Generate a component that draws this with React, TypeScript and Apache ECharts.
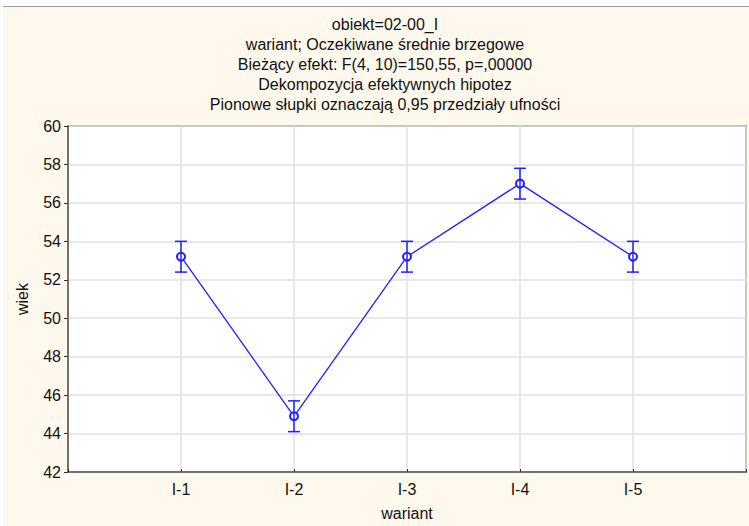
import React, { useEffect, useRef } from "react";
import * as echarts from "echarts";

// Expected marginal means of "wiek" per variant, with 0.95 confidence limits
const categories = ["I-1", "I-2", "I-3", "I-4", "I-5"];
const means = [53.2, 44.9, 53.2, 57.0, 53.2];
const lower = [52.4, 44.1, 52.4, 56.2, 52.4];
const upper = [54.0, 45.7, 54.0, 57.8, 54.0];
const yTicks = [42, 60, 2]; // min, max, interval

const titleLines = [
  "obiekt=02-00_I",
  "wariant; Oczekiwane średnie brzegowe",
  "Bieżący efekt: F(4, 10)=150,55, p=,00000",
  "Dekompozycja efektywnych hipotez",
  "Pionowe słupki oznaczają 0,95 przedziały ufności",
];

const FONT = "'Liberation Sans', Arial, sans-serif";
const BLUE = "#1f1fff";
const W = 746;

export default function App() {
  const ref = useRef<HTMLDivElement>(null);

  useEffect(() => {
    if (!ref.current) return;
    const chart = echarts.init(ref.current, undefined, { renderer: "svg" });

    // pad the category axis with an empty slot on each side
    const axisCats = ["", ...categories, ""];
    const lineData = [null, ...means, null];
    const errData = categories.map((c, i) => [c, lower[i], upper[i]]);

    chart.setOption({
      animation: false,
      backgroundColor: "#fff9ed",
      textStyle: { fontFamily: FONT },
      title: {
        text: titleLines.join("\n"),
        left: W / 2 + 4,
        textAlign: "center",
        top: 2,
        textStyle: {
          fontFamily: FONT,
          fontSize: 16,
          fontWeight: "normal",
          color: "#111",
          lineHeight: 20.2,
        },
      },
      grid: {
        left: 65,
        top: 119,
        bottom: 53,
        right: -5,
        show: true,
        backgroundColor: "#ffffff",
        borderColor: "#555",
        borderWidth: 1.5,
      },
      xAxis: {
        type: "category",
        data: axisCats,
        boundaryGap: false,
        name: "wariant",
        nameLocation: "middle",
        nameGap: 33,
        nameTextStyle: { fontFamily: FONT, fontSize: 16, color: "#111" },
        axisLine: { lineStyle: { color: "#555", width: 1.5 } },
        axisTick: { show: true, inside: true, length: 3, lineStyle: { color: "#333" } },
        axisLabel: { fontFamily: FONT, fontSize: 16, color: "#111", margin: 9, interval: 0 },
        splitLine: { show: true, lineStyle: { color: "#e0e0e0", width: 1.5 } },
      },
      yAxis: {
        type: "value",
        min: yTicks[0],
        max: yTicks[1],
        interval: yTicks[2],
        name: "wiek",
        nameLocation: "middle",
        nameGap: 38,
        nameTextStyle: { fontFamily: FONT, fontSize: 16, color: "#111" },
        axisLine: { show: true, lineStyle: { color: "#555", width: 1.5 } },
        axisTick: { show: true, length: 4, lineStyle: { color: "#333" } },
        axisLabel: { fontFamily: FONT, fontSize: 16, color: "#111", margin: 7 },
        splitLine: { show: true, lineStyle: { color: "#e0e0e0", width: 1.5 } },
      },
      series: [
        {
          type: "line",
          data: lineData,
          symbol: "emptyCircle",
          symbolSize: 8,
          connectNulls: false,
          lineStyle: { color: BLUE, width: 1.3 },
          itemStyle: { color: BLUE, borderColor: BLUE, borderWidth: 1.2 },
          z: 3,
        },
        {
          type: "custom",
          data: errData,
          encode: { x: 0, y: [1, 2] },
          z: 4,
          renderItem: (params: any, api: any) => {
            const x = api.value(0);
            const lo = api.coord([x, api.value(1)]);
            const hi = api.coord([x, api.value(2)]);
            const cap = 6;
            const style = { stroke: BLUE, lineWidth: 1.5, fill: "none" };
            return {
              type: "group",
              children: [
                { type: "line", shape: { x1: lo[0], y1: lo[1], x2: hi[0], y2: hi[1] }, style },
                { type: "line", shape: { x1: lo[0] - cap, y1: lo[1], x2: lo[0] + cap, y2: lo[1] }, style },
                { type: "line", shape: { x1: hi[0] - cap, y1: hi[1], x2: hi[0] + cap, y2: hi[1] }, style },
              ],
            };
          },
        },
      ],
    });

    return () => chart.dispose();
  }, []);

  return (
    <div style={{ position: "fixed", left: 0, top: 0, width: 749, height: 526, background: "#ffffff", overflow: "hidden" }}>
      <div style={{ position: "absolute", left: 3, top: 6, width: 746, height: 1, background: "#9a9a9a" }} />
      <div ref={ref} style={{ position: "absolute", left: 3, top: 7, width: W, height: 519 }} />
    </div>
  );
}
